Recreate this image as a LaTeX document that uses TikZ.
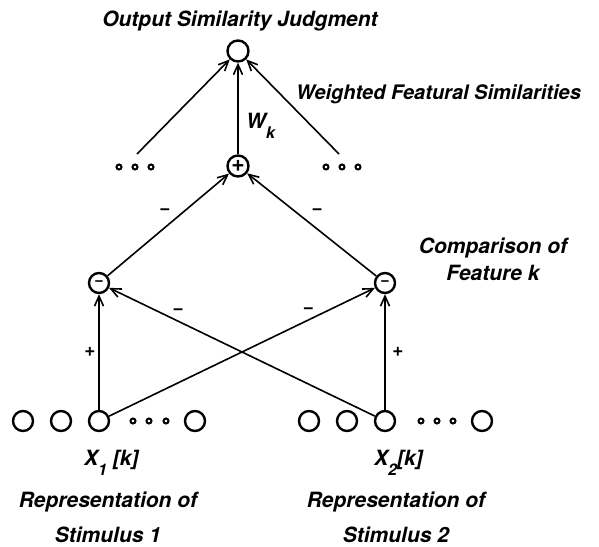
\documentclass[tikz,border=0pt]{standalone}
\usepackage{fontspec}
\setmainfont{TeX Gyre Heros}
\usetikzlibrary{arrows.meta, positioning}

% lowered index, as in W_k and X_1
\newcommand{\lowsub}[1]{\raisebox{-10pt}{\fontsize{16}{16}\selectfont #1}}

\begin{document}
\begin{tikzpicture}[
        x=1pt, y=-1pt,
        >={Straight Barb[length=10pt, width=9pt]},
        unit/.style={circle, draw, line width=2.4pt, minimum size=20pt, inner sep=0pt},
        op/.style={unit, font=\fontsize{16}{16}\selectfont\bfseries},
        tiny_dot/.style={circle, draw, line width=2pt, minimum size=5pt, inner sep=0pt},
        caption/.style={font=\fontsize{21}{27}\selectfont\bfseries\itshape, align=center, inner sep=1pt},
        group_caption/.style={caption, font=\fontsize{21}{35}\selectfont\bfseries\itshape},
        sign/.style={font=\fontsize{19}{19}\selectfont\bfseries, inner sep=0pt},
        link/.style={->, line width=1.6pt}
    ]
        \useasboundingbox (0,0) rectangle (599,546);

        % output unit and the weighted sum of feature k
        \node[unit, minimum size=21pt] (out) at (238,51) {};
        \node[op, minimum size=21pt, font=\fontsize{23}{23}\selectfont\bfseries] (sum) at (238,166) {+};

        % comparison units
        \node[op] (cmpA) at (99,283) {−};
        \node[op] (cmpB) at (385,283) {−};

        % the other features
        \foreach \x [count=\i] in {119,135,151} \node[tiny_dot] (ul\i) at (\x,167) {};
        \foreach \x [count=\i] in {326,342,358} \node[tiny_dot] (ur\i) at (\x,167) {};
        \coordinate (restL) at (137,154);
        \coordinate (restR) at (339,154);

        % stimulus representations
        \foreach \x [count=\i] in {23,61,99,195} \node[unit] (p\i) at (\x,421) {};
        \foreach \x [count=\i] in {133,149,166} \node[tiny_dot] (pd\i) at (\x,421) {};
        \foreach \x [count=\i] in {309,347,385,482} \node[unit] (q\i) at (\x,421) {};
        \foreach \x [count=\i] in {421,437,453} \node[tiny_dot] (qd\i) at (\x,421) {};

        % Edges
        \draw[link] (restL) -- (out);
        \draw[link] (restR) -- (out);
        \draw[link] (sum) -- (out);
        \draw[link] (cmpA) -- node[sign, shift={(-3.5,-13.5)}] {−} (sum);
        \draw[link] (cmpB) -- node[sign, shift={(5.5,-13.5)}] {−} (sum);
        \draw[link] (p3) -- node[sign, shift={(-9,0)}] {+} (cmpA);
        \draw[link] (q3) -- node[sign, shift={(13,0)}] {+} (cmpB);
        \draw[link] (q3) -- node[sign, pos=0.74, shift={(0,-10)}] {−} (cmpA);
        \draw[link] (p3) -- node[sign, pos=0.75, shift={(0,-9)}] {−} (cmpB);

        % Labels
        \node[caption, anchor=base] (title) at (240,27) {Output Similarity Judgment};
        \node[caption, anchor=base west, font=\fontsize{20}{24}\selectfont\bfseries\itshape] (weights) at (295,99) {Weighted Featural Similarities};
        \node[caption, anchor=base west] (wk) at (245,128) {W\lowsub{k}};
        \node[caption] (compare) at (493,259) {Comparison of\\Feature k};
        \node[caption, anchor=base west] (xa) at (83,465) {X\lowsub{1} [k]};
        \node[caption, anchor=base west] (xb) at (373,465) {X\lowsub{2}[k]};
        \node[group_caption] (stimA) at (108,517) {Representation of\\Stimulus 1};
        \node[group_caption] (stimB) at (396,517) {Representation of\\Stimulus 2};
    \end{tikzpicture}
\end{document}
